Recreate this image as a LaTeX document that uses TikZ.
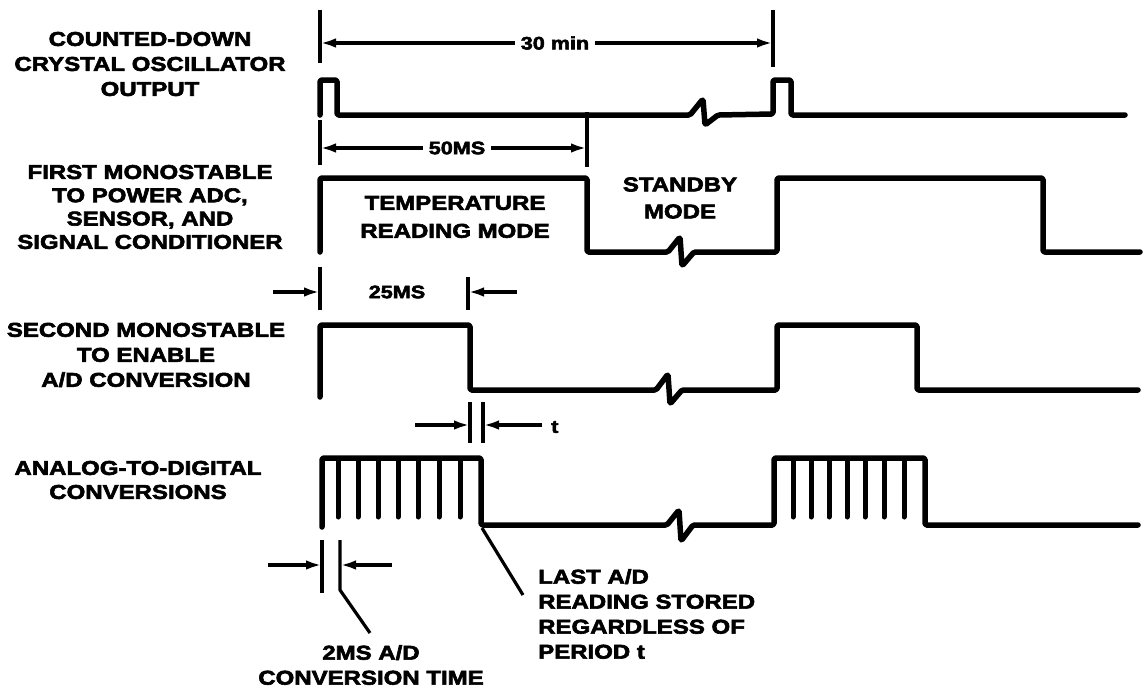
\documentclass[tikz,border=0pt]{standalone}
\usepackage{fontspec}
\usetikzlibrary{arrows.meta}
\newfontfamily\lbl{Liberation Sans Bold}[FakeStretch=1.2,FakeBold=3]
\tikzset{
  sig/.style={line width=5.5pt, line join=round, line cap=round, rounded corners=1.5pt},
  tooth/.style={line width=5pt, line cap=round},
  tickln/.style={line width=3.2pt},
  dimarr/.style={line width=3.2pt, -{Latex[length=16pt,width=9.5pt]}},
  lab/.style={font=\lbl\fontsize{20}{25}\selectfont, align=center, inner sep=0pt},
  dimtxt/.style={font=\lbl\fontsize{18}{22}\selectfont, inner xsep=6pt, inner ysep=0pt},
}
\begin{document}
\begin{tikzpicture}[x=1pt,y=-1pt]
\useasboundingbox (0,0) rectangle (1143,691);

% ---------- left labels ----------
\node[lab] (l1) at (150,64) {COUNTED-DOWN\\CRYSTAL OSCILLATOR\\OUTPUT};
\node[lab, font=\lbl\fontsize{20}{23.3}\selectfont] (l2) at (150,207) {FIRST MONOSTABLE\\TO POWER ADC,\\SENSOR, AND\\SIGNAL CONDITIONER};
\node[lab] (l3) at (146,355) {SECOND MONOSTABLE\\TO ENABLE\\A/D CONVERSION};
\node[lab, font=\lbl\fontsize{20}{24}\selectfont] (l4) at (138,480) {ANALOG-TO-DIGITAL\\CONVERSIONS};

% ---------- signal 1 ----------
\draw[sig] (320,115) -- (320,80) -- (337,80) -- (337,115) -- (690,115)
  -- ++(13,-16) -- ++(2,26) -- ++(13,-10) -- (773,114) -- (773,80) -- (791,80) -- (791,115) -- (1125,115);

% ---------- signal 2 ----------
\draw[sig] (320,252) -- (320,178) -- (587,178) -- (587,252) -- (668,252)
  -- ++(12,-15) -- ++(2,29) -- ++(12,-14) -- (777,252) -- (777,178) -- (1043,178) -- (1043,252) -- (1140,252);

% ---------- signal 3 ----------
\draw[sig] (320,397) -- (320,325) -- (470,325) -- (470,390) -- (656,390)
  -- ++(12,-16) -- ++(2,30) -- ++(12,-14) -- (777,390) -- (777,325) -- (917,325) -- (917,390) -- (1138,390);

% ---------- signal 4 ----------
\draw[sig] (322,527) -- (322,458) -- (481,458) -- (481,525) -- (667,525)
  -- ++(12,-15) -- ++(2,31) -- ++(12,-16) -- (774,525) -- (774,458) -- (925,458) -- (925,525) -- (1138,525);
\foreach \x in {338,358,378,398,418,439,460}
  \draw[tooth] (\x,461) -- (\x,517);
\foreach \x in {793,811,829,847,865,884,904}
  \draw[tooth] (\x,461) -- (\x,517);

% ---------- mode labels ----------
\node[lab, font=\lbl\fontsize{20}{28}\selectfont] (tm) at (455,217) {TEMPERATURE\\READING MODE};
\node[lab, font=\lbl\fontsize{20}{27}\selectfont] (sb) at (680,198) {STANDBY\\MODE};

% ---------- 30 min ----------
\draw[tickln] (320,10) -- (320,63);
\draw[tickln] (773,10) -- (773,67);
\node[dimtxt] (d30) at (555,43) {30 min};
\coordinate (d30l) at (320,43);
\coordinate (d30r) at (773,43);
\draw[dimarr] (d30) -- (d30l);
\draw[dimarr] (d30) -- (d30r);

% ---------- 50MS ----------
\draw[tickln] (320,120) -- (320,165);
\draw[tickln] (587,112) -- (587,167);
\node[dimtxt] (d50) at (457,148) {50MS};
\coordinate (d50l) at (320,148);
\coordinate (d50r) at (587,148);
\draw[dimarr] (d50) -- (d50l);
\draw[dimarr] (d50) -- (d50r);

% ---------- 25MS ----------
\draw[tickln] (320,267) -- (320,310);
\draw[tickln] (468,277) -- (468,310);
\node[dimtxt] (d25) at (397,292) {25MS};
\coordinate (d25a) at (273,292);
\coordinate (d25l) at (320,292);
\coordinate (d25b) at (517,292);
\coordinate (d25r) at (468,292);
\draw[dimarr] (d25a) -- (d25l);
\draw[dimarr] (d25b) -- (d25r);

% ---------- t ----------
\draw[tickln] (470,402) -- (470,443);
\draw[tickln] (483,402) -- (483,443);
\coordinate (ta) at (415,425);
\coordinate (tl) at (470,425);
\coordinate (tb) at (542,425);
\coordinate (tr) at (483,425);
\draw[dimarr] (ta) -- (tl);
\draw[dimarr] (tb) -- (tr);
\node[dimtxt, anchor=west, inner xsep=0pt] (tt) at (551,427) {t};

% ---------- 2MS ----------
\draw[tickln] (322,540) -- (322,593);
\coordinate (m1) at (340,540);
\coordinate (m2) at (340,590);
\coordinate (m3) at (370,633);
\draw[tickln, line join=round] (m1) -- (m2) -- (m3);
\coordinate (ma) at (268,565);
\coordinate (ml) at (322,565);
\coordinate (mb) at (392,565);
\coordinate (mr) at (340,565);
\draw[dimarr] (ma) -- (ml);
\draw[dimarr] (mb) -- (mr);
\node[lab] (cv) at (371,665) {2MS A/D\\CONVERSION TIME};

% ---------- last A/D ----------
\coordinate (la) at (482,528);
\coordinate (lb) at (523,595);
\draw[tickln] (la) -- (lb);
\node[lab, align=left, anchor=west] (last) at (538,614) {LAST A/D\\READING STORED\\REGARDLESS OF\\PERIOD t};

\end{tikzpicture}
\end{document}
